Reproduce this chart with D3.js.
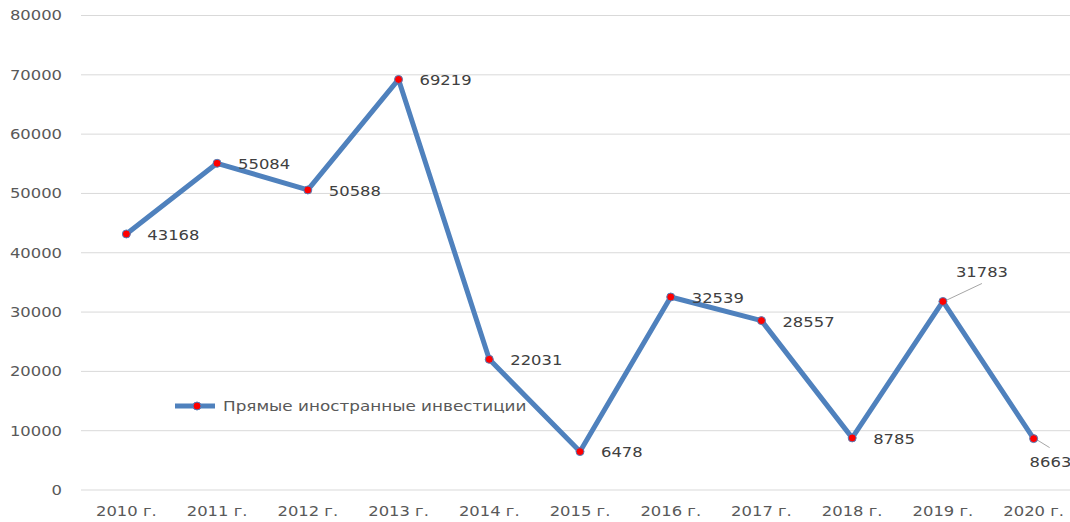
<!DOCTYPE html>
<html>
<head>
<meta charset="utf-8">
<script src="https://cdn.jsdelivr.net/npm/d3@7"></script>
<style>
  body { margin: 0; background: #fff; }
  svg { display: block; font-family: "DejaVu Sans", sans-serif; }
</style>
</head>
<body>
<div id="chart"></div>
<script>
// Прямые иностранные инвестиции, 2010–2020
const years = ["2010 г.", "2011 г.", "2012 г.", "2013 г.", "2014 г.", "2015 г.",
               "2016 г.", "2017 г.", "2018 г.", "2019 г.", "2020 г."];
const values = [43168, 55084, 50588, 69219, 22031, 6478, 32539, 28557, 8785, 31783, 8663];
const yTicks = [0, 10000, 20000, 30000, 40000, 50000, 60000, 70000, 80000];
const seriesName = "Прямые иностранные инвестиции";

const W = 1070, H = 522;
const margin = { top: 15.5, right: -9, bottom: 32, left: 81 };
const width = W - margin.left - margin.right;
const height = H - margin.top - margin.bottom;
const font = "\"DejaVu Sans\", sans-serif";
const fontSize = "14px";

// the source picture has wide, horizontally stretched lettering
function stretch(sel, k) {
    sel.each(function() {
        const len = this.getComputedTextLength();
        d3.select(this)
            .attr("textLength", len * k)
            .attr("lengthAdjust", "spacingAndGlyphs");
    });
}

const svg = d3.select("#chart").append("svg")
    .attr("width", W)
    .attr("height", H);

const g = svg.append("g")
    .attr("transform", `translate(${margin.left},${margin.top})`);

const x = d3.scaleBand()
    .domain(years)
    .range([0, width]);

const y = d3.scaleLinear()
    .domain([0, 80000])
    .range([height, 0]);

// gridlines
g.append("g")
    .selectAll("line")
    .data(yTicks)
    .enter()
    .append("line")
    .attr("x1", 0)
    .attr("x2", W - margin.left)
    .attr("y1", d => y(d))
    .attr("y2", d => y(d))
    .attr("stroke", "#d9d9d9")
    .attr("stroke-width", 1);

// y axis labels
const yAxis = g.append("g")
    .call(d3.axisLeft(y).tickValues(yTicks).tickSize(0).tickPadding(19).tickFormat(d3.format("d")));
yAxis.select(".domain").remove();
yAxis.selectAll("text")
    .attr("font-size", fontSize)
    .attr("font-family", font)
    .attr("fill", "#595959")
    .call(stretch, 1.17);

// x axis labels
const xAxis = g.append("g")
    .attr("transform", `translate(0,${height})`)
    .call(d3.axisBottom(x).tickSize(0).tickPadding(16));
xAxis.select(".domain").remove();
xAxis.selectAll("text")
    .attr("font-size", fontSize)
    .attr("font-family", font)
    .attr("fill", "#595959")
    .call(stretch, 1.17);

const cx = d => x(d) + x.bandwidth() / 2;

const points = years.map((yr, i) => ({ year: yr, value: values[i] }));

// series line
const line = d3.line()
    .x(d => cx(d.year))
    .y(d => y(d.value));

g.append("path")
    .datum(points)
    .attr("d", line)
    .attr("fill", "none")
    .attr("stroke", "#4f81bd")
    .attr("stroke-width", 5)
    .attr("stroke-linejoin", "round");

// leader lines for the two labels that were moved
const leaders = { "2019 г.": [39, -18], "2020 г.": [16, 9] };
g.selectAll(".leader")
    .data(points.filter(d => leaders[d.year]))
    .enter()
    .append("line")
    .attr("x1", d => cx(d.year) + 3)
    .attr("y1", d => y(d.value) - (leaders[d.year][1] < 0 ? 1 : -1))
    .attr("x2", d => cx(d.year) + leaders[d.year][0])
    .attr("y2", d => y(d.value) + leaders[d.year][1])
    .attr("stroke", "#a6a6a6")
    .attr("stroke-width", 1);

// markers
g.selectAll(".dot")
    .data(points)
    .enter()
    .append("circle")
    .attr("cx", d => cx(d.year))
    .attr("cy", d => y(d.value))
    .attr("r", 4)
    .attr("fill", "#ff0000")
    .attr("stroke", "#4f81bd")
    .attr("stroke-width", 1);

// data labels
const labelOffset = { "2019 г.": [13, -29], "2020 г.": [-4, 23] };
g.selectAll(".label")
    .data(points)
    .enter()
    .append("text")
    .attr("x", d => cx(d.year) + (labelOffset[d.year] ? labelOffset[d.year][0] : 21))
    .attr("y", d => y(d.value) + (labelOffset[d.year] ? labelOffset[d.year][1] : 1))
    .attr("dy", "0.35em")
    .attr("font-size", fontSize)
    .attr("fill", "#404040")
    .text(d => d.value)
    .call(stretch, 1.17);

// legend
const legend = svg.append("g").attr("transform", "translate(175,406)");
legend.append("line")
    .attr("x1", 0).attr("x2", 40)
    .attr("stroke", "#4f81bd")
    .attr("stroke-width", 5);
legend.append("circle")
    .attr("cx", 22).attr("r", 4)
    .attr("fill", "#ff0000")
    .attr("stroke", "#4f81bd")
    .attr("stroke-width", 1);
legend.append("text")
    .attr("x", 48)
    .attr("dy", "0.35em")
    .attr("font-size", fontSize)
    .attr("fill", "#595959")
    .text(seriesName)
    .call(stretch, 1.2);
</script>
</body>
</html>
